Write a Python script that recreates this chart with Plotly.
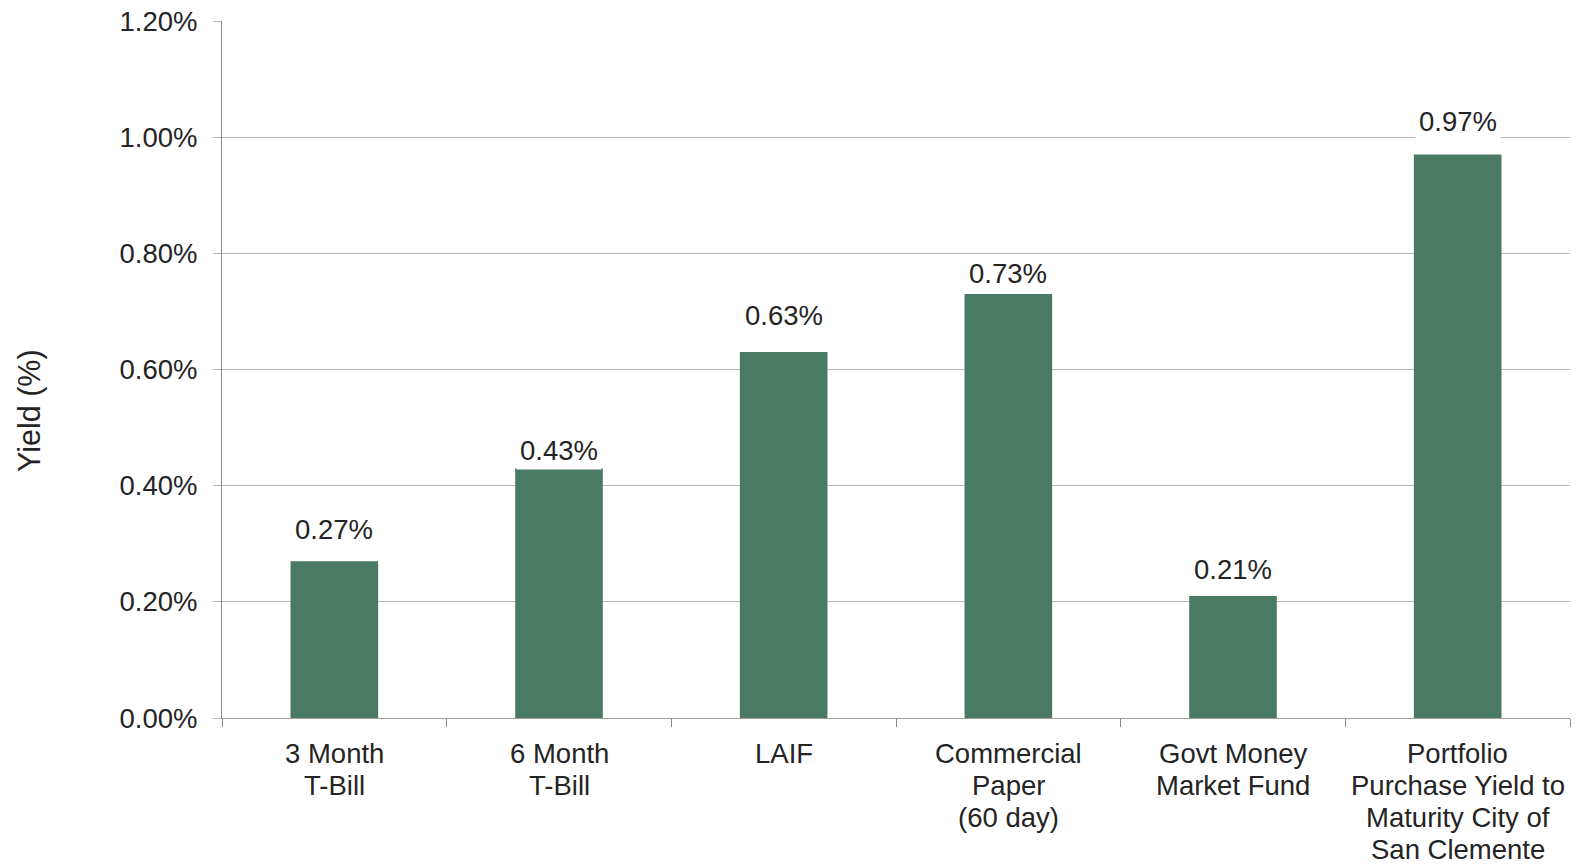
import plotly.graph_objects as go

categories = [
    "3 Month<br>T-Bill",
    "6 Month<br>T-Bill",
    "LAIF",
    "Commercial<br>Paper<br>(60 day)",
    "Govt Money<br>Market Fund",
    "Portfolio<br>Purchase Yield to<br>Maturity City of<br>San Clemente",
]
yields = [0.27, 0.43, 0.63, 0.73, 0.21, 0.97]
y_ticks = [0.0, 0.2, 0.4, 0.6, 0.8, 1.0, 1.2]
y_tick_labels = ["0.00%", "0.20%", "0.40%", "0.60%", "0.80%", "1.00%", "1.20%"]

# pixel gap between each bar top and the centre of its value label
label_gaps = [32, 18, 37, 20, 27, 33]

FONT = "Liberation Sans, Arial, sans-serif"
TEXT = "#242424"
BAR = "#4a7a64"
GRID = "#b8b8b8"

W, H = 1581, 866
M_L, M_R, M_T, M_B = 222, 11, 21, 148
LINE_H = 32          # spacing between lines of a category label
FIRST_LINE = 35      # distance from axis to the first label line

fig = go.Figure()
fig.add_trace(go.Bar(
    x=categories,
    y=yields,
    marker=dict(color=BAR, line=dict(width=0)),
    width=0.39,
    hoverinfo="skip",
))

# value labels above each bar, on a white box so gridlines break behind them
for cat, v, gap in zip(categories, yields, label_gaps):
    fig.add_annotation(
        x=cat, y=v, text=f"{v:.2f}%",
        showarrow=False, yanchor="middle", yshift=gap,
        font=dict(family=FONT, size=27.5, color=TEXT),
        bgcolor="white", borderpad=3,
    )

# category labels, one annotation per line for tighter line spacing
for cat in categories:
    for i, line in enumerate(cat.split("<br>")):
        fig.add_annotation(
            x=cat, y=0, text=line,
            showarrow=False, yanchor="middle",
            yshift=-(FIRST_LINE + LINE_H * i),
            font=dict(family=FONT, size=27.5, color=TEXT),
        )

# rotated axis title
plot_h = H - M_T - M_B
fig.add_annotation(
    xref="paper", yref="paper",
    x=0, xshift=29 - M_L, y=(H - M_B - 411) / plot_h,
    text="Yield (%)", textangle=-90, showarrow=False,
    xanchor="center", yanchor="middle",
    font=dict(family=FONT, size=30.5, color=TEXT),
)

fig.update_layout(
    width=W, height=H,
    margin=dict(l=M_L, r=M_R, t=M_T, b=M_B, autoexpand=False),
    paper_bgcolor="white", plot_bgcolor="white",
    showlegend=False,
    font=dict(family=FONT, size=27.5, color=TEXT),
)
fig.update_xaxes(
    showgrid=False, automargin=False,
    showline=True, linecolor="#a0a0a0", linewidth=1,
    ticks="outside", tickson="boundaries", ticklen=8, tickcolor="#8a8a8a",
    showticklabels=False,
)
fig.update_yaxes(
    range=[0, 1.2], automargin=False,
    tickvals=y_ticks, ticktext=y_tick_labels,
    showgrid=True, gridcolor=GRID, gridwidth=1,
    zeroline=False,
    showline=True, linecolor="#8a8a8a", linewidth=1,
    ticks="outside", ticklen=8, tickcolor=GRID,
    ticklabelstandoff=10,
    tickfont=dict(family=FONT, size=27.5, color=TEXT),
)

fig.write_html("out.html")
